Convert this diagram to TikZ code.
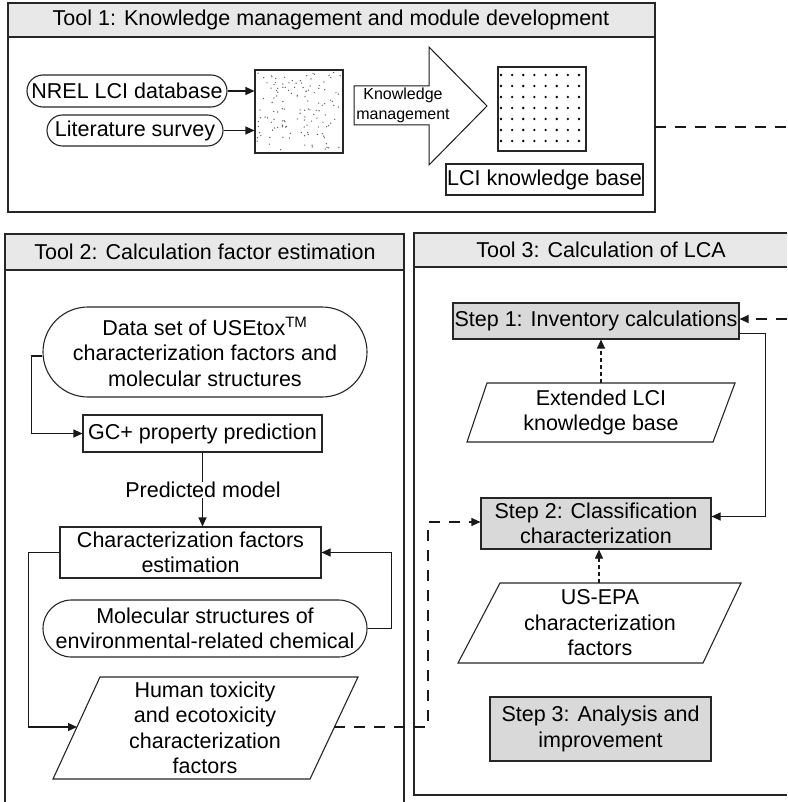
\documentclass[tikz,border=0pt]{standalone}
\usepackage{fontspec}
\setmainfont{Liberation Sans}
\usetikzlibrary{arrows.meta}

\begin{document}
\begin{tikzpicture}[x=1pt,y=-1pt,
  font=\fontsize{21.5}{25.5}\selectfont,
  every node/.style={inner sep=0pt, align=center},
  frame/.style={draw=black!85, line width=1.2pt},
  headfill/.style={fill=black!9},
  plainbox/.style={draw=black!85, line width=1.1pt, fill=white},
  stepbox/.style={draw=black!85, line width=1.1pt, fill=black!15},
  pill/.style={draw=black!85, line width=1.1pt, fill=white},
  wire/.style={draw=black!90, line width=1.1pt},
  link/.style={wire, -{Triangle[length=9pt,width=8pt]}},
  dlink/.style={link, dash pattern=on 11pt off 9pt},
  dline/.style={wire, dash pattern=on 11pt off 9pt},
  ddlink/.style={link, dash pattern=on 4pt off 3pt},
]
\useasboundingbox (0,0) rectangle (787,802);

% ---------------- Tool 1 ----------------
\fill[headfill] (8,3) rectangle (655,37);
\draw[frame] (8,3) rectangle (655,212);
\draw[frame] (8,37) -- (655,37);
\node (t1head) at (331,20) {Tool 1: Knowledge management and module development};

\node[pill, minimum width=200pt, minimum height=32pt, rounded corners=16pt] (nrel) at (127,91) {NREL LCI database};
\node[pill, minimum width=176pt, minimum height=31pt, rounded corners=15.5pt] (lit) at (135,130.5) {Literature survey};

% raw data: scattered stipple
\node[plainbox, minimum width=88pt, minimum height=83pt] (raw) at (299,111.5) {};
\pgfmathsetseed{11}
\foreach \i in {1,...,130}{
  \pgfmathsetmacro\rx{257+84*rnd}
  \pgfmathsetmacro\ry{72+79*rnd}
  \fill[black!65] (\rx,\ry) circle[radius=0.7];
}
\draw[link] (nrel.east) -- (nrel.east -| raw.west);
\draw[link] (lit.east) -- (lit.east -| raw.west);

% knowledge management block arrow
\draw[wire, fill=white, line width=1pt] (354,86) -- (429,86) -- (429,47) -- (487,106) -- (429,165) -- (429,125) -- (354,125) -- cycle;
\node[font=\fontsize{16}{20}\selectfont] (km) at (403,105) {Knowledge\\management};

% ordered knowledge base: regular dot grid
\node[plainbox, minimum width=88pt, minimum height=84pt] (kb) at (542,109) {};
\foreach \c in {0,...,7}{
  \foreach \r in {0,...,6}{
    \fill (501+11.14*\c, 75+11*\r) circle[radius=1.3];
  }
}
\node[plainbox, minimum width=197pt, minimum height=31pt] (kblabel) at (544.5,179.5) {LCI knowledge base};

\coordinate (t1out) at (655,127);
\coordinate (edgeA) at (787,127);
\draw[dline] (t1out) -- (edgeA);

% ---------------- Tool 2 ----------------
\fill[headfill] (5,234) rectangle (404,270);
\draw[frame] (5,802) -- (5,234) -- (404,234) -- (404,802);
\draw[frame] (5,270) -- (404,270);
\node (t2head) at (205,252) {Tool 2: Calculation factor estimation};

\node[pill, minimum width=324pt, minimum height=90pt, rounded corners=45pt] (data) at (205,352)
  {Data set of USEtox\textsuperscript{TM}\\characterization factors and\\molecular structures};
\node[plainbox, minimum width=239pt, minimum height=37pt] (gc) at (202.5,433.5) {GC+ property prediction};
\draw[link] ([yshift=-4pt]data.west) -- ++(-11,0) |- (gc.west);

\node (pm) at (203,490) {Predicted model};
\node[plainbox, minimum width=261pt, minimum height=51pt] (cf) at (190.5,552.5) {Characterization factors\\estimation};
\draw[wire] (gc.south) -- (gc.south |- pm.north);
\draw[link] (gc.south |- pm.south) -- (gc.south |- cf.north);

\node[pill, minimum width=324pt, minimum height=57pt, rounded corners=28.5pt] (mol) at (205,628.5)
  {Molecular structures of\\environmental-related chemical};
\draw[link] (mol.east) -- ++(24,0) |- (cf.east);

% output parallelogram
\draw[plainbox] (100,677) -- (358,677) -- (310,779) -- (53,779) -- cycle;
\node (ht) at (205,728) {Human toxicity\\and ecotoxicity\\characterization\\factors};
\coordinate (htin) at (77,727);
\coordinate (htout) at (334,727);
\draw[link] (cf.west) -- ++(-31,0) |- (htin);

% ---------------- Tool 3 ----------------
\fill[headfill] (414,233) rectangle (787,267);
\draw[frame] (787,233) -- (414,233) -- (414,795) -- (787,795);
\draw[frame] (414,267) -- (787,267);
\node (t3head) at (601,250) {Tool 3: Calculation of LCA};

\node[stepbox, minimum width=286pt, minimum height=36pt] (s1) at (596,321) {Step 1: Inventory calculations};

\draw[plainbox] (487,383) -- (735,383) -- (713,442) -- (467,442) -- cycle;
\node (ext) at (601,412.5) {Extended LCI\\knowledge base};
\coordinate (extTop) at (601,383);
\draw[ddlink] (extTop) -- (extTop |- s1.south);

\node[stepbox, minimum width=230pt, minimum height=51pt] (s2) at (596,523.5) {Step 2: Classification\\characterization};
\draw[link] ([yshift=6pt]s1.south east) -- ++(26,0) |- ([yshift=7pt]s2.east);

\draw[plainbox] (500,583) -- (741,583) -- (703,663) -- (458,663) -- cycle;
\node (epa) at (600,623) {US-EPA\\characterization\\factors};
\coordinate (epaTop) at (599,583);
\draw[ddlink] (epaTop) -- (epaTop |- s2.south);

\node[stepbox, minimum width=221pt, minimum height=64pt] (s3) at (600.5,729) {Step 3: Analysis and\\improvement};

% dashed links between the tools
\draw[dlink] (htout) -- ++(94,0) |- ([yshift=1.5pt]s2.west);
\coordinate (edgeB) at (787,319);
\draw[dlink] (edgeB) -- (edgeB -| s1.east);

\end{tikzpicture}
\end{document}
